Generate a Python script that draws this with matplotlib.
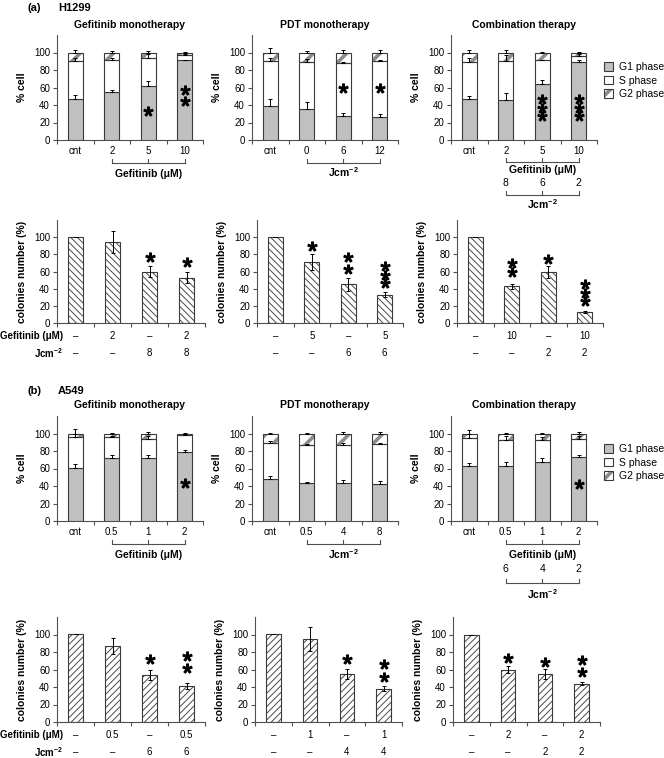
import matplotlib
matplotlib.use('Agg')
import matplotlib.pyplot as plt
from matplotlib.transforms import blended_transform_factory
from matplotlib.patches import Patch
from matplotlib.legend_handler import HandlerTuple

plt.rcParams['font.family'] = ['Liberation Sans', 'DejaVu Sans']
plt.rcParams['mathtext.fontset'] = 'custom'
plt.rcParams['mathtext.rm'] = 'Liberation Sans'
plt.rcParams['mathtext.it'] = 'Liberation Sans:italic'
plt.rcParams['mathtext.bf'] = 'Liberation Sans:bold'

# ---------------- data ----------------
JCM = r'Jcm$^{\mathbf{-2}}$'
GEF = 'Gefitinib (\u03bcM)'

# (a) H1299 cell-cycle distribution (% cells)
a_gef_labels = ['cnt', '2', '5', '10']
a_gef_g1 = [47, 55, 62, 91]
a_gef_g1_err = [4, 2, 6, 1]
a_gef_s = [43, 36, 32, 6]
a_gef_s_err = [4, 3, 4, 1]
a_gef_g2 = [10, 9, 6, 3]
a_gef_g2_err = [3, 2, 2, 0.5]
a_gef_stars = [[], [], [33], [57, 45]]

a_pdt_labels = ['cnt', '0', '6', '12']
a_pdt_g1 = [39, 35, 27, 26]
a_pdt_g1_err = [8, 8, 4, 4]
a_pdt_s = [51, 54, 61, 64]
a_pdt_s_err = [4, 4, 1, 1]
a_pdt_g2 = [10, 11, 12, 10]
a_pdt_g2_err = [5, 2, 3, 2.5]
a_pdt_stars = [[], [], [60], [60]]

a_comb_labels = ['cnt', '2', '5', '10']
a_comb_jcm = ['8', '6', '2']
a_comb_g1 = [47, 46, 64, 89]
a_comb_g1_err = [3, 8, 5, 2]
a_comb_s = [42, 44, 27, 7]
a_comb_s_err = [5, 7, 1, 2]
a_comb_g2 = [11, 10, 9, 4]
a_comb_g2_err = [3, 3, 0.5, 0.5]
a_comb_stars = [[], [], [47, 37, 27], [47, 37, 27]]

# (a) H1299 colonies (%)
a_col_gef = [100, 94, 60, 53]
a_col_gef_err = [0, 13, 6, 6]
a_col_gef_row1 = ['\u2013', '2', '\u2013', '2']
a_col_gef_row2 = ['\u2013', '\u2013', '8', '8']
a_col_gef_stars = [[], [], [77], [71]]

a_col_pdt = [100, 71, 45, 33]
a_col_pdt_err = [0, 9.5, 7.5, 3]
a_col_pdt_row1 = ['\u2013', '5', '\u2013', '5']
a_col_pdt_row2 = ['\u2013', '\u2013', '6', '6']
a_col_pdt_stars = [[], [90], [77, 63], [66, 56, 47]]

a_col_comb = [100, 43, 59, 13]
a_col_comb_err = [0, 3, 7, 1]
a_col_comb_row1 = ['\u2013', '10', '\u2013', '10']
a_col_comb_row2 = ['\u2013', '\u2013', '2', '2']
a_col_comb_stars = [[], [70, 59], [74], [45, 35, 26]]

# (b) A549 cell-cycle distribution (% cells)
b_gef_labels = ['cnt', '0.5', '1', '2']
b_gef_g1 = [61, 72, 72, 79]
b_gef_g1_err = [4, 3, 4, 2]
b_gef_s = [35, 24, 22, 19]
b_gef_s_err = [3, 1, 3, 1]
b_gef_g2 = [4, 4, 6, 2]
b_gef_g2_err = [5, 1, 2, 1]
b_gef_stars = [[], [], [], [43]]

b_pdt_labels = ['cnt', '0.5', '4', '8']
b_pdt_g1 = [48, 44, 43, 42]
b_pdt_g1_err = [3, 1, 4, 4]
b_pdt_s = [41, 43, 44, 46]
b_pdt_s_err = [2, 1, 2, 1]
b_pdt_g2 = [11, 13, 13, 12]
b_pdt_g2_err = [1, 1, 2, 2]
b_pdt_stars = [[], [], [], []]

b_comb_labels = ['cnt', '0.5', '1', '2']
b_comb_jcm = ['6', '4', '2']
b_comb_g1 = [63, 63, 68, 73]
b_comb_g1_err = [3, 5, 4, 2]
b_comb_s = [32, 30, 25, 21]
b_comb_s_err = [4, 4, 3, 3]
b_comb_g2 = [5, 7, 7, 6]
b_comb_g2_err = [4, 1, 1, 2]
b_comb_stars = [[], [], [], [42]]

# (b) A549 colonies (%)
b_col_gef = [101, 87, 54, 41]
b_col_gef_err = [0, 9.5, 5.5, 3.5]
b_col_gef_row1 = ['\u2013', '0.5', '\u2013', '0.5']
b_col_gef_row2 = ['\u2013', '\u2013', '6', '6']
b_col_gef_stars = [[], [], [72], [75, 62]]

b_col_pdt = [101, 95, 55, 38]
b_col_pdt_err = [0, 14, 6, 3]
b_col_pdt_row1 = ['\u2013', '1', '\u2013', '1']
b_col_pdt_row2 = ['\u2013', '\u2013', '4', '4']
b_col_pdt_stars = [[], [], [72], [66, 52]]

b_col_comb = [99, 60, 55, 44]
b_col_comb_err = [0, 4, 6, 1.5]
b_col_comb_row1 = ['\u2013', '2', '\u2013', '2']
b_col_comb_row2 = ['\u2013', '\u2013', '2', '2']
b_col_comb_stars = [[], [73], [69], [71, 57]]

titles = ['Gefitinib monotherapy', 'PDT monotherapy', 'Combination therapy']

# ---------------- style ----------------
W, H = 664, 758
G1C = '#c0c0c0'
EDGE = '#3a3a3a'
AXC = '#505050'
G2HC = '#8c8c8c'
TICKFS = 7
TITLEFS = 7.5

fig = plt.figure(figsize=(W / 100, H / 100), dpi=100)


def fx(px):
    return px / W


def fy(py):
    return 1 - py / H


def make_axes(x0, x1, ytop, ybot):
    ax = fig.add_axes([fx(x0), fy(ybot), (x1 - x0) / W, (ybot - ytop) / H])
    ax.set_xlim(-0.5, 3.5)
    ax.set_ylim(0, 120)
    for s in ('top', 'right'):
        ax.spines[s].set_visible(False)
    for s in ('left', 'bottom'):
        ax.spines[s].set_color(AXC)
        ax.spines[s].set_linewidth(0.8)
    ax.set_yticks([0, 20, 40, 60, 80, 100])
    ax.set_xticks([-0.5, 0.5, 1.5, 2.5, 3.5])
    ax.set_xticklabels([])
    ax.tick_params(axis='both', which='major', direction='out', length=3,
                   width=0.8, color=AXC, labelsize=TICKFS, pad=2)
    ax.set_facecolor('none')
    ax.yaxis.set_label_coords(-30 / (x1 - x0), 0.5)
    return ax


def trans(ax):
    return blended_transform_factory(ax.transData, fig.transFigure)


def stars(ax, star_list):
    for i, ys in enumerate(star_list):
        if ys:
            ax.plot([i] * len(ys), ys, ls='none', marker=r'$*$',
                    ms=6.5, color='black', zorder=6)


def set_hlw(p, hlw):
    try:
        p.set_hatch_linewidth(hlw)
    except Exception:
        pass


def hatched_bar(ax, x, h, bottom, hatch, hcolor, hlw, width=0.4):
    plt.rcParams['hatch.linewidth'] = hlw
    bars = ax.bar(x, h, width=width, bottom=bottom, color='white',
                  edgecolor=hcolor, hatch=hatch, linewidth=0, zorder=2)
    for b in bars:
        set_hlw(b, hlw)
    ax.bar(x, h, width=width, bottom=bottom, fill=False, edgecolor=EDGE,
           linewidth=0.8, zorder=3)


def stacked_panel(ax, labels, g1, g1e, s, se, g2, g2e, st, title, title_py):
    x = list(range(len(g1)))
    ax.bar(x, g1, width=0.4, color=G1C, edgecolor=EDGE, linewidth=0.8, zorder=3)
    ax.bar(x, s, width=0.4, bottom=g1, color='white', edgecolor=EDGE,
           linewidth=0.8, zorder=3)
    cum = [a + b for a, b in zip(g1, s)]
    hatched_bar(ax, x, g2, cum, '//', G2HC, 2.6)
    top = [c + d for c, d in zip(cum, g2)]
    ek = dict(fmt='none', ecolor='black', elinewidth=0.7, capsize=1.5,
              capthick=0.7, zorder=5)
    ax.errorbar(x, g1, yerr=[[0] * 4, g1e], **ek)
    ax.errorbar(x, cum, yerr=[[0] * 4, se], **ek)
    ax.errorbar(x, top, yerr=[[0] * 4, g2e], **ek)
    stars(ax, st)
    ax.set_xticks(x, minor=True)
    ax.set_xticklabels(labels, minor=True)
    ax.tick_params(axis='x', which='minor', length=0, pad=4, labelsize=TICKFS)
    ax.set_ylabel('% cell', fontweight='bold', fontsize=7.5)
    ax.text(1.5, fy(title_py), title, transform=trans(ax), ha='center',
            va='center', fontsize=TITLEFS, fontweight='bold')
    ax.set_xlim(-0.5, 3.5)
    ax.set_ylim(0, 120)


def colony_panel(ax, vals, errs, hatch, row1, row2, st, py1, py2, rowlabels):
    x = list(range(len(vals)))
    hatched_bar(ax, x, vals, 0, hatch, '#4a4a4a', 0.7)
    ax.errorbar(x, vals, yerr=errs, fmt='none', ecolor='black', elinewidth=0.7,
                capsize=1.5, capthick=0.7, zorder=5)
    stars(ax, st)
    tr = trans(ax)
    for i in x:
        ax.text(i, fy(py1), row1[i], transform=tr, ha='center', va='center',
                fontsize=TICKFS)
        ax.text(i, fy(py2), row2[i], transform=tr, ha='center', va='center',
                fontsize=TICKFS)
    if rowlabels:
        fig.text(fx(63), fy(py1), GEF, ha='right', va='center', fontsize=7,
                 fontweight='bold')
        fig.text(fx(63), fy(py2), JCM, ha='right', va='center', fontsize=7,
                 fontweight='bold')
    ax.set_ylabel('colonies number (%)', fontweight='bold', fontsize=7.5)
    ax.set_xlim(-0.5, 3.5)
    ax.set_ylim(0, 120)


def bracket(ax, xs, py_line, py_tick):
    tr = trans(ax)
    ax.plot([xs[0], xs[-1]], [fy(py_line)] * 2, transform=tr, color=AXC,
            lw=0.8, clip_on=False)
    for xv in xs:
        ax.plot([xv, xv], [fy(py_tick), fy(py_line)], transform=tr, color=AXC,
                lw=0.8, clip_on=False)


def label_under(ax, xv, py, txt, bold=True):
    ax.text(xv, fy(py), txt, transform=trans(ax), ha='center', va='center',
            fontsize=7.5, fontweight='bold' if bold else 'normal')


def phase_legend(ax, py_top):
    plt.rcParams['hatch.linewidth'] = 2.6
    g2_fill = Patch(facecolor='white', edgecolor=G2HC, hatch='//', linewidth=0)
    set_hlw(g2_fill, 2.6)
    g2_edge = Patch(facecolor='none', edgecolor=EDGE, linewidth=0.8)
    handles = [Patch(facecolor=G1C, edgecolor=EDGE, linewidth=0.8),
               Patch(facecolor='white', edgecolor=EDGE, linewidth=0.8),
               (g2_fill, g2_edge)]
    leg = ax.legend(handles, ['G1 phase', 'S phase', 'G2 phase'],
                    loc='upper left', bbox_to_anchor=(fx(604), fy(py_top)),
                    bbox_transform=fig.transFigure, frameon=False,
                    fontsize=7.5, handlelength=0.9, handleheight=0.9,
                    handletextpad=0.5, labelspacing=0.35, borderpad=0,
                    borderaxespad=0,
                    handler_map={tuple: HandlerTuple(ndivide=1, pad=0)})
    return leg


# ---------------- layout ----------------
row_x_stack = [(57, 203), (252, 398), (451, 597)]
row_x_col_a = [(57, 205), (257, 403), (457, 603)]
row_x_col_b = [(57, 205), (255, 402), (453, 600)]

# ----- (a) row 1 -----
fig.text(fx(27), fy(8), '(a)', fontsize=8, fontweight='bold', va='center')
fig.text(fx(58), fy(8), 'H1299', fontsize=8, fontweight='bold', va='center')

a_stack = [
    (a_gef_labels, a_gef_g1, a_gef_g1_err, a_gef_s, a_gef_s_err, a_gef_g2, a_gef_g2_err, a_gef_stars),
    (a_pdt_labels, a_pdt_g1, a_pdt_g1_err, a_pdt_s, a_pdt_s_err, a_pdt_g2, a_pdt_g2_err, a_pdt_stars),
    (a_comb_labels, a_comb_g1, a_comb_g1_err, a_comb_s, a_comb_s_err, a_comb_g2, a_comb_g2_err, a_comb_stars),
]
axes_a = []
for k, (x0, x1) in enumerate(row_x_stack):
    ax = make_axes(x0, x1, 35, 140)
    stacked_panel(ax, *a_stack[k], titles[k], 25)
    axes_a.append(ax)

bracket(axes_a[0], [1, 2, 3], 163, 159)
label_under(axes_a[0], 2, 174, GEF)
bracket(axes_a[1], [1, 2, 3], 163, 159)
label_under(axes_a[1], 2, 172, JCM)
bracket(axes_a[2], [1, 2, 3], 162, 158)
label_under(axes_a[2], 2, 170, GEF)
for i, t in enumerate(a_comb_jcm):
    label_under(axes_a[2], i + 1, 183, t, bold=False)
bracket(axes_a[2], [1, 2, 3], 195, 191)
label_under(axes_a[2], 2, 204, JCM)
phase_legend(axes_a[2], 62)

# ----- (a) row 2 -----
a_cols = [
    (a_col_gef, a_col_gef_err, a_col_gef_row1, a_col_gef_row2, a_col_gef_stars),
    (a_col_pdt, a_col_pdt_err, a_col_pdt_row1, a_col_pdt_row2, a_col_pdt_stars),
    (a_col_comb, a_col_comb_err, a_col_comb_row1, a_col_comb_row2, a_col_comb_stars),
]
for k, (x0, x1) in enumerate(row_x_col_a):
    ax = make_axes(x0, x1, 220, 323)
    v, e, r1, r2, st = a_cols[k]
    colony_panel(ax, v, e, '\\\\\\\\\\', r1, r2, st, 336, 353, k == 0)

# ----- (b) row 3 -----
fig.text(fx(27), fy(391), '(b)', fontsize=8, fontweight='bold', va='center')
fig.text(fx(58), fy(391), 'A549', fontsize=8, fontweight='bold', va='center')

b_stack = [
    (b_gef_labels, b_gef_g1, b_gef_g1_err, b_gef_s, b_gef_s_err, b_gef_g2, b_gef_g2_err, b_gef_stars),
    (b_pdt_labels, b_pdt_g1, b_pdt_g1_err, b_pdt_s, b_pdt_s_err, b_pdt_g2, b_pdt_g2_err, b_pdt_stars),
    (b_comb_labels, b_comb_g1, b_comb_g1_err, b_comb_s, b_comb_s_err, b_comb_g2, b_comb_g2_err, b_comb_stars),
]
axes_b = []
for k, (x0, x1) in enumerate(row_x_stack):
    ax = make_axes(x0, x1, 416, 521)
    stacked_panel(ax, *b_stack[k], titles[k], 405)
    axes_b.append(ax)

bracket(axes_b[0], [1, 2, 3], 544, 540)
label_under(axes_b[0], 2, 555, GEF)
bracket(axes_b[1], [1, 2, 3], 544, 540)
label_under(axes_b[1], 2, 554, JCM)
bracket(axes_b[2], [1, 2, 3], 544, 540)
label_under(axes_b[2], 2, 555, GEF)
for i, t in enumerate(b_comb_jcm):
    label_under(axes_b[2], i + 1, 569, t, bold=False)
bracket(axes_b[2], [1, 2, 3], 583, 579)
label_under(axes_b[2], 2, 594, JCM)
phase_legend(axes_b[2], 444)

# ----- (b) row 4 -----
b_cols = [
    (b_col_gef, b_col_gef_err, b_col_gef_row1, b_col_gef_row2, b_col_gef_stars),
    (b_col_pdt, b_col_pdt_err, b_col_pdt_row1, b_col_pdt_row2, b_col_pdt_stars),
    (b_col_comb, b_col_comb_err, b_col_comb_row1, b_col_comb_row2, b_col_comb_stars),
]
for k, (x0, x1) in enumerate(row_x_col_b):
    ax = make_axes(x0, x1, 617, 722)
    v, e, r1, r2, st = b_cols[k]
    colony_panel(ax, v, e, '/////', r1, r2, st, 735, 752, k == 0)

fig.savefig('out.png', dpi=100)
